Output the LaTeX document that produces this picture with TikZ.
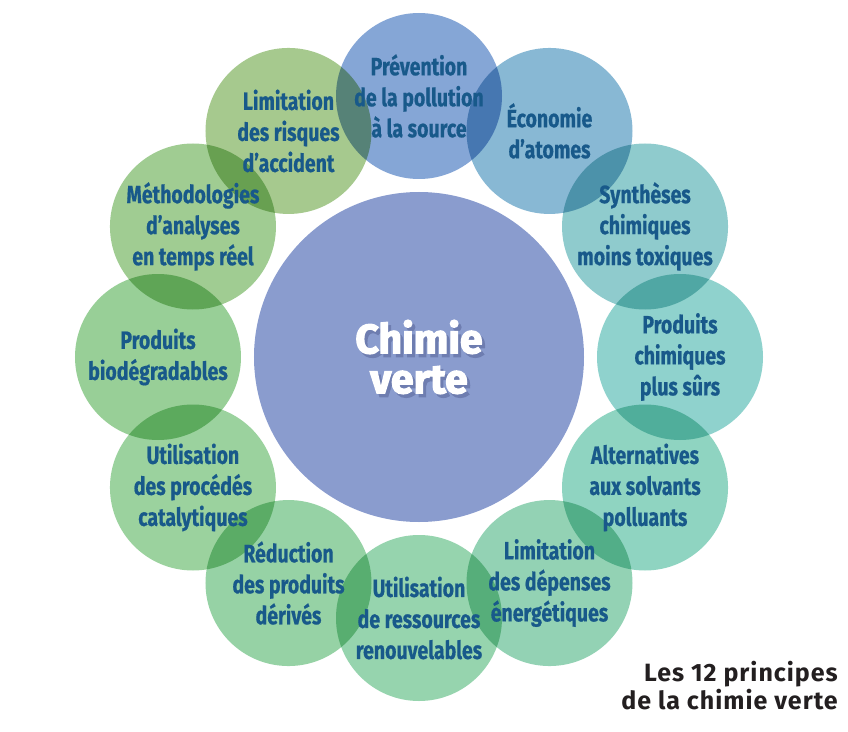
\documentclass[tikz,border=0pt]{standalone}
\usepackage{fontspec}
\setmainfont{Fira Sans}
\newfontfamily\condfont[FakeStretch=0.78, FakeBold=0.6]{Fira Sans}
\newfontfamily\heavyfont[FakeBold=3]{Fira Sans}
\newfontfamily\titrefont[LetterSpace=4]{Fira Sans}

\definecolor{centre}{HTML}{8A9CCE}
\definecolor{ombre}{HTML}{6E7DB0}
\definecolor{textbleu}{HTML}{18598A}
\definecolor{titre}{HTML}{231F20}
\definecolor{c1}{HTML}{85A6D6}
\definecolor{c2}{HTML}{88B8D4}
\definecolor{c3}{HTML}{8FCBCD}
\definecolor{c4}{HTML}{8FD2CD}
\definecolor{c5}{HTML}{8FD4C1}
\definecolor{c6}{HTML}{93D2B4}
\definecolor{c7}{HTML}{96D4AE}
\definecolor{c8}{HTML}{96D2A5}
\definecolor{c9}{HTML}{9BD29E}
\definecolor{c10}{HTML}{98CF97}
\definecolor{c11}{HTML}{A0CC92}
\definecolor{c12}{HTML}{A6C98E}

\begin{document}
\begin{tikzpicture}[x=1pt, y=1pt,
    principe/.style={circle, minimum size=166pt, inner sep=0pt, fill=#1, blend mode=multiply},
    principetxt/.style={align=center, inner sep=0pt, text=textbleu,
        font=\condfont\bfseries\fontsize{25}{31}\selectfont}]

    \useasboundingbox (-419,-374) rectangle (429,357);

    % chimie verte
    \node[circle, minimum size=330pt, inner sep=0pt, fill=centre] (c) at (0,0) {};
    \node[align=center, text=ombre, font=\heavyfont\bfseries\fontsize{41}{40}\selectfont]
        (ombre) at (3,-3.5) {Chimie\\verte};
    \node[align=center, text=white, font=\heavyfont\bfseries\fontsize{41}{40}\selectfont]
        (chimie) at (c) {Chimie\\verte};

    % les 12 principes
    \foreach \ang [count=\i] in {90,60,...,-240}
        \node[principe=c\i] (p\i) at (\ang:261) {};

    \foreach \txt [count=\i] in {
        {Prévention\\de la pollution\\à la source},
        {Économie\\d’atomes},
        {Synthèses\\chimiques\\moins toxiques},
        {Produits\\chimiques\\plus sûrs},
        {Alternatives\\aux solvants\\polluants},
        {Limitation\\des dépenses\\énergétiques},
        {Utilisation\\de ressources\\renouvelables},
        {Réduction\\des produits\\dérivés},
        {Utilisation\\des procédés\\catalytiques},
        {Produits\\biodégradables},
        {Méthodologies\\d’analyses\\en temps réel},
        {Limitation\\des risques\\d’accident}}
        \node[principetxt] (t\i) at (p\i) {\txt};

    \node[anchor=north east, align=right, inner sep=0pt, text=titre,
        font=\titrefont\bfseries\fontsize{25}{28}\selectfont] (legende) at (419,-304)
        {Les 12 principes\\de la chimie verte};

\end{tikzpicture}
\end{document}
